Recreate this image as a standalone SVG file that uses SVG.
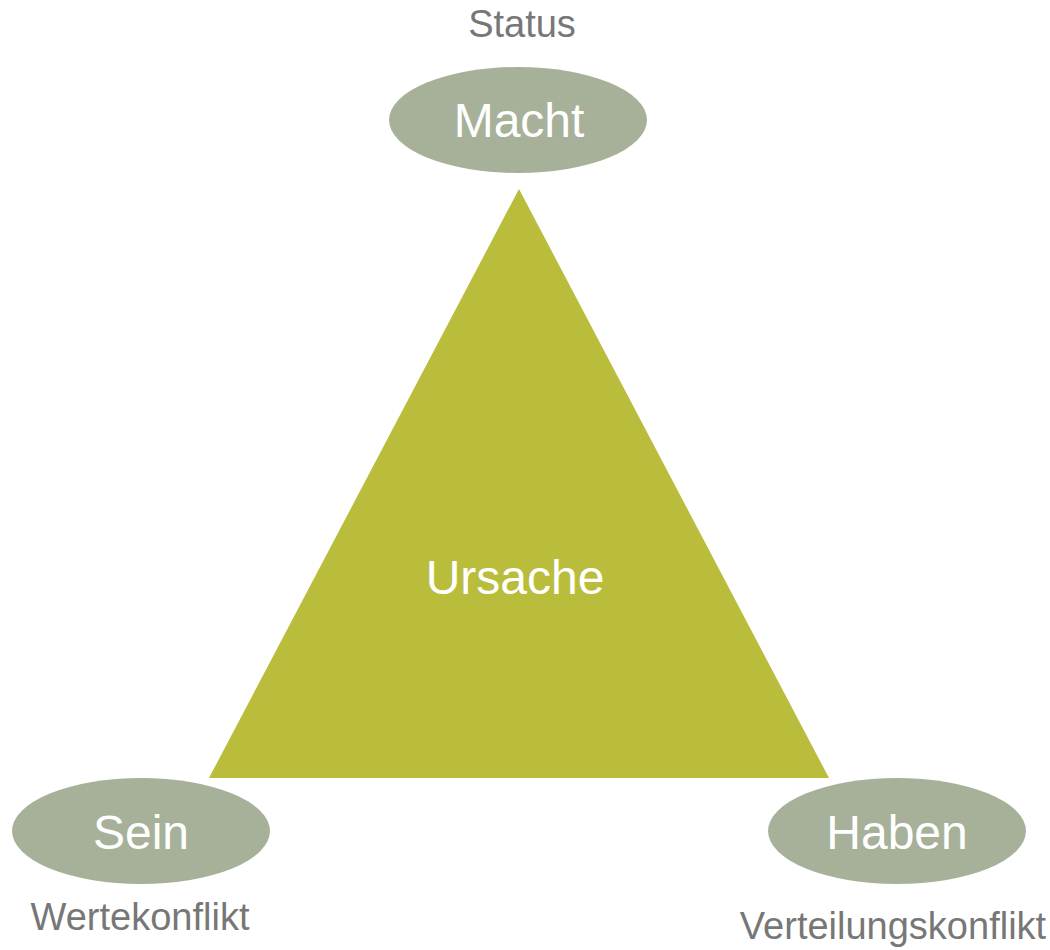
<svg xmlns="http://www.w3.org/2000/svg" width="1050" height="950" viewBox="0 0 1050 950">
<style>
.ell{fill:#A7B19A;}
.tri{fill:#B9BD3B;}
.big{font-family:"Liberation Sans",Arial,sans-serif;font-size:48px;fill:#FFFFFF;text-anchor:middle;}
.lab{font-family:"Liberation Sans",Arial,sans-serif;font-size:38px;fill:#777777;text-anchor:middle;}
</style>
<rect width="1050" height="950" fill="#FFFFFF"/>
<g id="ursache">
<polygon class="tri" points="519,189 209,778 829,778"/>
<text class="big" x="515" y="594">Ursache</text>
</g>
<g id="macht">
<ellipse class="ell" cx="518" cy="120" rx="129" ry="53"/>
<text class="big" x="519" y="137">Macht</text>
<text class="lab" x="522" y="37">Status</text>
</g>
<g id="sein">
<ellipse class="ell" cx="141" cy="831" rx="129" ry="53"/>
<text class="big" x="141" y="849">Sein</text>
<text class="lab" x="140" y="930">Wertekonflikt</text>
</g>
<g id="haben">
<ellipse class="ell" cx="897" cy="831" rx="129" ry="53"/>
<text class="big" x="897" y="849">Haben</text>
<text class="lab" x="893" y="939">Verteilungskonflikt</text>
</g>
<g id="connectors"></g>
</svg>
